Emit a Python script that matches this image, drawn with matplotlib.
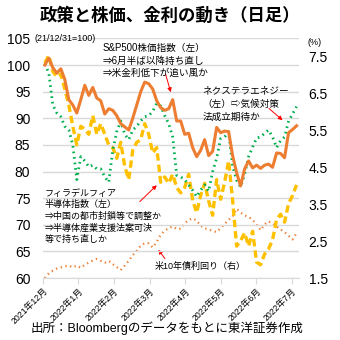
import numpy as np
import matplotlib
matplotlib.use('Agg')
import matplotlib.pyplot as plt

plt.rcParams['font.family'] = ['Liberation Sans', 'Noto Sans CJK JP', 'DejaVu Sans']

# Month tick labels (category-style axis, one tick per month)
month_labels = ['2021年12月', '2022年1月', '2022年2月', '2022年3月',
                '2022年4月', '2022年5月', '2022年6月', '2022年7月']

# Series (left axis: 21/12/31 = 100)
sp500 = [100, 101.3, 99.5, 98.5, 99.3, 97.3, 93.5, 92.5, 91, 93.5, 96.2, 94.3,
         95.8, 93.8, 93.3, 90.8, 91.8, 91.5, 90.5, 89, 88.4, 87.8, 90, 92.5,
         95, 96.8, 96.5, 95.5, 93.3, 92, 91.5, 91.8, 93.5, 89.5, 89.5, 87,
         87.2, 84.5, 82.8, 84, 86, 83, 83.8, 88.3, 87.3, 87.6, 87.5, 83,
         79.8, 77.3, 80.5, 82, 80.7, 81.2, 80.6, 81.2, 81.4, 80.8, 83.5, 83.4,
         82.6, 87.3, 87.9, 88.6]
sox = [100.4, 101.8, 98.8, 97.8, 98.3, 95.5, 92.5, 88.5, 85, 88.5, 88, 87,
       90.5, 87, 89, 87, 85, 84.5, 82.5, 85.5, 81, 78.5, 84, 85.5,
       86, 89, 87, 83.5, 84.5, 78, 79, 77.8, 79.5, 77, 76, 77,
       79.5, 74.6, 72.3, 75.5, 77.8, 74.5, 71.8, 78.5, 74.8, 78, 82, 74.6,
       66, 67, 68.5, 66, 68.8, 63, 62.5, 64.5, 65.5, 67.2, 71, 72,
       70.5, 74, 75.5, 77.5]
nextera = [100.2, 98.5, 92.5, 91, 90.3, 88.5, 87.8, 85, 78.5, 82.8, 82, 80.9,
           81.2, 80.5, 80.5, 79, 78, 84, 87.5, 89.5, 87, 86, 87.8, 88.5,
           89.5, 90.3, 90.5, 91.3, 92.8, 92.3, 90.5, 89, 86.5, 79.3, 79, 78.5,
           77.5, 76.5, 75.3, 76.5, 77.5, 76.3, 80, 82.5, 86.2, 86.5, 87.5, 81,
           78.4, 77.1, 79.5, 82.8, 84.6, 86.3, 86.5, 87.2, 87.8, 86.5, 84.5, 85.8,
           86.5, 89.5, 90.8, 92.2]
# US 10y yield (right axis, %)
us10y = [1.5, 1.63, 1.7, 1.76, 1.79, 1.82, 1.84, 1.79, 1.84, 1.78, 1.86, 1.92,
         1.98, 2.02, 1.97, 1.92, 1.97, 1.88, 1.8, 1.72, 1.84, 1.97, 2.12, 2.24,
         2.38, 2.45, 2.44, 2.33, 2.48, 2.68, 2.78, 2.86, 2.9, 2.83, 2.84, 2.98,
         3.08, 3.12, 3.06, 2.92, 2.85, 2.82, 2.78, 2.75, 2.86, 2.97, 3.08, 3.18,
         3.38, 3.28, 3.2, 3.16, 3.08, 2.95, 2.8, 2.96, 3.04, 2.97, 2.9, 2.82,
         2.75, 2.65, 2.55, 2.72]

x = np.linspace(0.056, 7.135, len(sp500))

fig = plt.figure(figsize=(3.4, 3.4), dpi=100)
ax = fig.add_axes([0.126, 0.182, 0.753, 0.705])
ax2 = ax.twinx()

ax.set_zorder(ax2.get_zorder() + 1)
ax.patch.set_visible(False)

# right axis line first (behind)
ax2.plot(x, us10y, color='#ED7D31', linestyle=(0, (0.6, 1.6)), linewidth=1.6)

ax.plot(x, sox, color='#FFC000', linestyle=(0, (2.2, 1.2)), linewidth=2.4)
ax.plot(x, nextera, color='#00B050', linestyle=(0, (0.6, 1.4)), linewidth=2.0)
ax.plot(x, sp500, color='#ED7D31', linewidth=2.2)

ax.set_ylim(60, 105)
ax.set_yticks(np.arange(60, 106, 5))
ax2.set_ylim(1.5, 8.0)
ax2.set_yticks([1.5, 2.5, 3.5, 4.5, 5.5, 6.5, 7.5])
ax2.set_yticklabels(['1.5', '2.5', '3.5', '4.5', '5.5', '6.5', '7.5'])
ax.set_xlim(0, 7.2)
ax.set_xticks(range(8))
ax.set_xticklabels(month_labels, rotation=45, ha='right', va='top',
                   rotation_mode='anchor', fontsize=6.3)

ax.grid(axis='y', color='#D9D9D9', linewidth=1)
ax.set_axisbelow(True)
for a in (ax, ax2):
    for s in a.spines.values():
        s.set_visible(False)
ax.spines['bottom'].set_visible(True)
ax.spines['bottom'].set_color('#D9D9D9')
ax.tick_params(axis='y', length=0, pad=9, labelsize=10)
ax2.tick_params(axis='y', length=0, pad=7, labelsize=10)
ax.tick_params(axis='x', length=4, color='#D9D9D9', pad=2)

fig.text(0.5, 0.955, '政策と株価、金利の動き（日足）', ha='center', va='center',
         fontsize=12.5, fontweight='bold')
fig.text(0.102, 0.888, '(21/12/31=100)', ha='left', va='center', fontsize=6.5)
fig.text(0.905, 0.875, '(%)', ha='left', va='center', fontsize=6.5)
fig.text(0.49, 0.035, '出所：Bloombergのデータをもとに東洋証券作成',
         ha='center', va='center', fontsize=9)

arrow = dict(arrowstyle='-|>', color='red', lw=0.7, mutation_scale=6)

ax.annotate('', xy=(3.62, 94.4), xytext=(3.43, 98.8), arrowprops=arrow)
ax.text(1.68, 104.2, 'S&P500株価指数（左）\n⇒6月半ば以降持ち直し\n⇒米金利低下が追い風か',
        ha='left', va='top', fontsize=6.9, linespacing=1.35)

ax.annotate('', xy=(6.8, 89.3), xytext=(6.3, 92.2), arrowprops=arrow)
ax.text(4.48, 96.2, 'ネクステラエネジー\n（左）⇨気候対策\n法成立期待か',
        ha='left', va='top', fontsize=6.9, linespacing=1.4)

ax.annotate('', xy=(3.26, 77.8), xytext=(2.67, 74.0), arrowprops=arrow)
ax.text(0.05, 76.8, 'フィラデルフィア\n半導体指数（左）\n⇒中国の都市封鎖等で調整か\n⇒半導体産業支援法案可決\n等で持ち直しか',
        ha='left', va='top', fontsize=6.5, linespacing=1.35)

ax2.annotate('', xy=(3.2, 2.33), xytext=(3.48, 1.97), arrowprops=arrow)
ax2.text(3.15, 1.83, '米10年債利回り（右）', ha='left', va='center', fontsize=6.5)

fig.savefig('out.png', dpi=100)
